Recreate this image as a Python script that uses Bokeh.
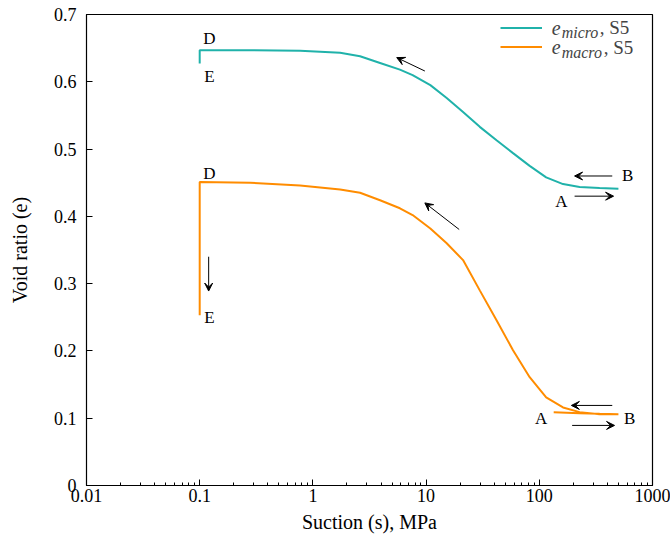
from bokeh.plotting import figure
from bokeh.models import (FixedTicker, CustomJSTickFormatter, Legend, LegendItem,
                          Label, Arrow, VeeHead, Range1d)
from bokeh.embed import file_html
from bokeh.resources import INLINE

# ---- data ----
micro_s = [500, 341, 227, 162, 115, 82.2, 58.6, 41.9, 29.8, 21.2, 15.2, 10.9, 7.6, 5.87, 3.92, 2.61, 1.74,
           0.77, 0.279, 0.1, 0.1]
micro_e = [0.441, 0.442, 0.4435, 0.448, 0.458, 0.475, 0.494, 0.513, 0.533, 0.555, 0.576, 0.595, 0.610, 0.618,
           0.628, 0.638, 0.643, 0.646, 0.647, 0.647, 0.627]

macro_s = [134, 227, 341, 500, 341, 227, 162, 115, 82.2, 58.6, 41.9, 29.8, 21.2, 15.2, 10.9, 7.6, 5.87,
           3.92, 2.61, 1.74, 0.77, 0.279, 0.1, 0.1]
macro_e = [0.109, 0.1075, 0.1065, 0.106, 0.106, 0.109, 0.116, 0.131, 0.161, 0.201, 0.2455, 0.290, 0.335,
           0.360, 0.382, 0.402, 0.412, 0.424, 0.435, 0.440, 0.446, 0.450, 0.451, 0.253]

x_ticks = [0.01, 0.1, 1, 10, 100, 1000]
y_ticks = [0, 0.1, 0.2, 0.3, 0.4, 0.5, 0.6, 0.7]

# annotation arrows (start -> end)
arrow_x0 = [9.75, 19.6, 441, 205, 441, 195, 0.12]
arrow_y0 = [0.616, 0.3805, 0.460, 0.430, 0.119, 0.0893, 0.340]
arrow_x1 = [5.5, 9.75, 205, 453, 192, 462, 0.12]
arrow_y1 = [0.636, 0.420, 0.460, 0.430, 0.119, 0.0893, 0.289]

# point labels
pt_text = ["D", "E", "D", "E", "B", "A", "A", "B"]
pt_x = [0.122, 0.122, 0.122, 0.122, 603, 157, 104, 627]
pt_y = [0.665, 0.608, 0.464, 0.250, 0.460, 0.4215, 0.099, 0.099]

TEAL = "#20b2aa"
ORANGE = "#ff8c00"
FONT = "Liberation Serif"

p = figure(x_axis_type="log", x_range=Range1d(0.01, 1000), y_range=Range1d(0, 0.7),
           frame_width=566, frame_height=471, output_backend="svg", toolbar_location=None,
           min_border_left=86, min_border_right=18, min_border_top=14, min_border_bottom=53)
p.xgrid.visible = False
p.ygrid.visible = False
p.outline_line_color = "black"
p.outline_line_width = 1.2
p.background_fill_color = "white"
p.border_fill_color = "white"

r_micro = p.line(micro_s, micro_e, line_color=TEAL, line_width=2)
r_macro = p.line(macro_s, macro_e, line_color=ORANGE, line_width=2)

# axes
minor = [m * d for d in [0.01, 0.1, 1, 10, 100] for m in range(2, 10)]
p.xaxis.ticker = FixedTicker(ticks=x_ticks, minor_ticks=minor)
p.xaxis.formatter = CustomJSTickFormatter(code="return tick.toString();")
p.yaxis.ticker = FixedTicker(ticks=y_ticks)
p.yaxis.formatter = CustomJSTickFormatter(code="return Number(tick.toFixed(1)).toString();")
for ax in (p.xaxis, p.yaxis):
    ax.axis_line_color = "black"
    ax.major_tick_line_color = "black"
    ax.minor_tick_line_color = "black"
    ax.major_tick_in = 6
    ax.major_tick_out = 0
    ax.minor_tick_in = 3
    ax.minor_tick_out = 0
    ax.major_label_text_font = FONT
    ax.major_label_text_font_size = "18px"
    ax.major_label_text_color = "black"
    ax.axis_label_text_font = FONT
    ax.axis_label_text_font_size = "20px"
    ax.axis_label_text_font_style = "normal"
    ax.axis_label_text_color = "black"
p.yaxis.minor_tick_line_color = None
p.xaxis.axis_label = "Suction (s), MPa"
p.yaxis.axis_label = "Void ratio (e)"
p.xaxis.major_label_standoff = 3
p.yaxis.major_label_standoff = 10
p.xaxis.axis_label_standoff = 6
p.yaxis.axis_label_standoff = 20

# arrows
for x0, y0, x1, y1 in zip(arrow_x0, arrow_y0, arrow_x1, arrow_y1):
    p.add_layout(Arrow(end=VeeHead(size=8, fill_color="black", line_color="black", line_width=1),
                       x_start=x0, y_start=y0, x_end=x1, y_end=y1,
                       line_color="black", line_width=1))

# point labels
for t, x, y in zip(pt_text, pt_x, pt_y):
    p.add_layout(Label(x=x, y=y, text=t, text_font=FONT, text_font_size="17px",
                       text_align="center", text_baseline="middle", text_color="black"))

# legend (glyph samples) + composed text
legend = Legend(items=[LegendItem(label=" ", renderers=[r_micro]),
                       LegendItem(label=" ", renderers=[r_macro])],
                location="top_right", glyph_width=42, glyph_height=19, label_height=19,
                label_width=106, label_standoff=0, padding=0, margin=4, spacing=0,
                border_line_color=None, background_fill_alpha=0)
p.add_layout(legend)

leg_x = 128.5
leg_y = [0.680, 0.651]
leg_sub = ["micro", "macro"]
leg_comma_dx = [48, 52]
for y, sub, dx in zip(leg_y, leg_sub, leg_comma_dx):
    p.add_layout(Label(x=leg_x, y=y, text="e", text_font=FONT, text_font_size="20px",
                       text_font_style="italic", text_baseline="middle", text_align="left"))
    p.add_layout(Label(x=leg_x, y=y, x_offset=10, y_offset=-5, text=sub, text_font=FONT,
                       text_font_size="16px", text_font_style="italic",
                       text_baseline="middle", text_align="left"))
    p.add_layout(Label(x=leg_x, y=y, x_offset=dx, text=", S5", text_font=FONT,
                       text_font_size="19px", text_baseline="middle", text_align="left"))

open("out.html", "w").write(file_html(p, INLINE))
